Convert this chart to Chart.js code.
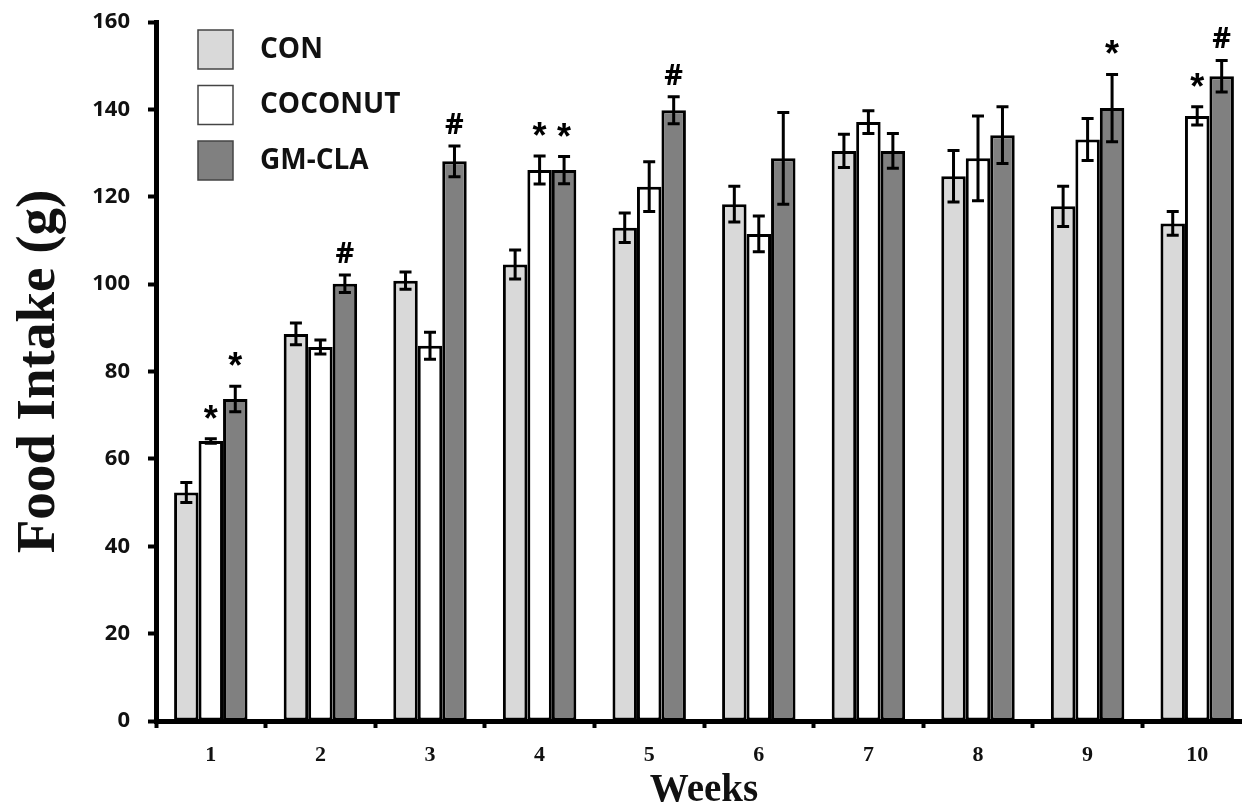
<!DOCTYPE html>
<html>
<head>
<meta charset="utf-8">
<script src="https://cdn.jsdelivr.net/npm/chart.js@4/dist/chart.umd.min.js"></script>
<style>
  body { margin: 0; background: #fff; overflow: hidden; }
</style>
</head>
<body>
<canvas id="myChart" width="1252" height="803"></canvas>
<script>
// weeks on the x axis
const weeks = ['1', '2', '3', '4', '5', '6', '7', '8', '9', '10'];

// food intake (g), means and error (+/-)
const conMeans  = [52.3, 88.6, 100.8, 104.5, 112.9, 118.3, 130.5, 124.7, 117.8, 113.9];
const conErr    = [2.3, 2.5, 2.0, 3.3, 3.4, 4.1, 3.8, 5.9, 4.6, 2.7];
const cocoMeans = [64.1, 85.6, 85.9, 126.1, 122.3, 111.5, 137.1, 128.8, 133.1, 138.5];
const cocoErr   = [0.5, 1.6, 3.1, 3.2, 5.7, 4.1, 2.6, 9.7, 4.8, 2.1];
const gmMeans   = [73.7, 100.1, 128.1, 126.1, 139.8, 128.8, 130.5, 134.1, 140.3, 147.6];
const gmErr     = [2.9, 2.0, 3.5, 3.1, 3.1, 10.5, 4.0, 6.5, 7.7, 3.6];

// significance marks above the bars
const conMarks  = ['', '', '', '', '', '', '', '', '', ''];
const cocoMarks = ['*', '', '', '*', '', '', '', '', '', '*'];
const gmMarks   = ['*', '#', '#', '*', '#', '', '', '', '*', '#'];

const yTicks = [0, 20, 40, 60, 80, 100, 120, 140, 160];

const errs = [conErr, cocoErr, gmErr];
const marks = [conMarks, cocoMarks, gmMarks];

// error bars + stars/hashes
const errorBars = {
  id: 'errorBars',
  afterDatasetsDraw(chart) {
    const ctx = chart.ctx;
    const y = chart.scales.y;
    chart.data.datasets.forEach((ds, i) => {
      const meta = chart.getDatasetMeta(i);
      meta.data.forEach((bar, j) => {
        const v = ds.data[j];
        const e = errs[i][j];
        const top = y.getPixelForValue(v + e);
        const bot = y.getPixelForValue(v - e);
        ctx.save();
        ctx.strokeStyle = '#000';
        ctx.lineWidth = 3;
        ctx.beginPath();
        ctx.moveTo(bar.x, top);
        ctx.lineTo(bar.x, bot);
        ctx.moveTo(bar.x - 6, top);
        ctx.lineTo(bar.x + 6, top);
        ctx.moveTo(bar.x - 6, bot);
        ctx.lineTo(bar.x + 6, bot);
        ctx.stroke();

        const m = marks[i][j];
        if (m) {
          ctx.fillStyle = '#000';
          ctx.textAlign = 'center';
          ctx.textBaseline = 'alphabetic';
          let gap;
          if (m == '*') {
            ctx.font = 'bold 36px "Liberation Sans"';
            gap = 20;
          } else {
            ctx.font = 'bold 29px "Open Sans"';
            gap = 12;
          }
          const desc = ctx.measureText(m).actualBoundingBoxDescent;
          ctx.fillText(m, bar.x, top - gap - desc);
        }
        ctx.restore();
      });
    });
  }
};

// legend drawn by hand, top left inside the plot
const boxLegend = {
  id: 'boxLegend',
  afterDraw(chart) {
    const ctx = chart.ctx;
    ctx.save();
    chart.data.datasets.forEach((ds, i) => {
      const top = 30 + i * 55.5;
      ctx.fillStyle = ds.backgroundColor;
      ctx.fillRect(198, top, 35, 39);
      ctx.strokeStyle = '#444';
      ctx.lineWidth = 1.5;
      ctx.strokeRect(198, top, 35, 39);
      ctx.fillStyle = '#111';
      ctx.font = 'bold 28px "Open Sans"';
      ctx.textAlign = 'left';
      ctx.textBaseline = 'middle';
      ctx.fillText(ds.label, 260, top + 20);
    });
    ctx.restore();
  }
};

const ctx = document.getElementById('myChart').getContext('2d');
const myChart = new Chart(ctx, {
  type: 'bar',
  data: {
    labels: weeks,
    datasets: [
      { label: 'CON', data: conMeans, backgroundColor: '#d9d9d9' },
      { label: 'COCONUT', data: cocoMeans, backgroundColor: '#ffffff' },
      { label: 'GM-CLA', data: gmMeans, backgroundColor: '#808080' }
    ]
  },
  options: {
    responsive: false,
    animation: false,
    devicePixelRatio: 1,
    layout: { padding: { top: 22, right: 0, left: 0, bottom: 0 } },
    datasets: {
      bar: {
        borderColor: '#000',
        borderWidth: 3,
        borderSkipped: false,
        categoryPercentage: 0.67,
        barPercentage: 1.0
      }
    },
    plugins: {
      legend: { display: false },
      tooltip: { enabled: false }
    },
    scales: {
      x: {
        grid: {
          drawOnChartArea: false,
          drawTicks: true,
          tickLength: 7,
          tickWidth: 4,
          tickColor: '#000',
          offset: true
        },
        border: { display: true, color: '#000', width: 5 },
        ticks: {
          color: '#111',
          padding: 14,
          font: { family: '"Liberation Serif"', weight: 'bold', size: 22 }
        },
        title: {
          display: true,
          text: 'Weeks',
          color: '#111',
          padding: 0,
          font: { family: '"Liberation Serif"', weight: 'bold', size: 39, lineHeight: 0.6 }
        },
        afterFit(scale) { scale.height = 82; }
      },
      y: {
        min: 0,
        max: 160,
        afterBuildTicks(scale) { scale.ticks = yTicks.map(v => ({ value: v })); },
        grid: {
          drawOnChartArea: false,
          drawTicks: true,
          tickLength: 8,
          tickWidth: 4,
          tickColor: '#000'
        },
        border: { display: true, color: '#000', width: 5 },
        ticks: {
          color: '#111',
          padding: 18,
          font: { family: '"Open Sans"', weight: 'bold', size: 22 }
        },
        title: {
          display: true,
          text: 'Food Intake (g)',
          color: '#111',
          padding: { top: 12, bottom: 0 },
          font: { family: '"Liberation Serif"', weight: 'bold', size: 55, lineHeight: 1 }
        },
        afterFit(scale) {
          scale.width = 156;
          scale.paddingTop = 0;
          scale.paddingBottom = 0;
        }
      }
    }
  },
  plugins: [errorBars, boxLegend]
});
</script>
</body>
</html>
